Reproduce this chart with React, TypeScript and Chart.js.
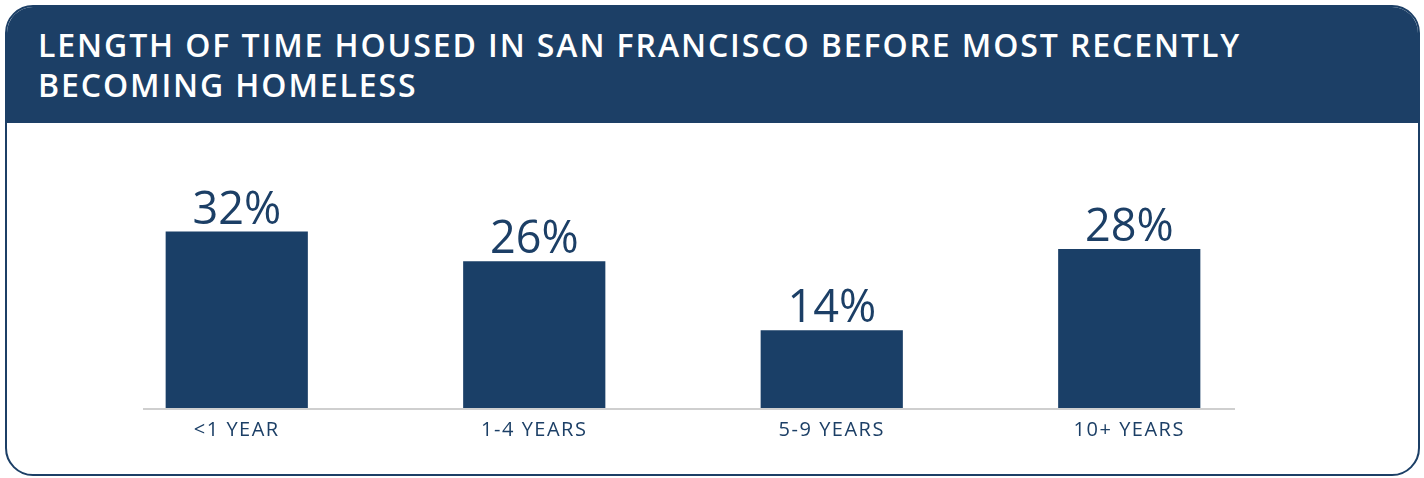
import React, { useEffect, useRef } from "react";
import { Chart, registerables } from "chart.js";

Chart.register(...registerables);

const TITLE_LINE_1 = "LENGTH OF TIME HOUSED IN SAN FRANCISCO BEFORE MOST RECENTLY";
const TITLE_LINE_2 = "BECOMING HOMELESS";

const categories = ["<1 YEAR", "1-4 YEARS", "5-9 YEARS", "10+ YEARS"];
// shares (labels show them rounded)
const shares = [31.5, 26.2, 13.9, 28.4];
const yMax = 40;

const NAVY = "#1c3f66";
const BAR = "#1a3f67";
const AXIS_GRAY = "#cfcfcf";
const FONT = "'Open Sans', 'DejaVu Sans', sans-serif";

const spacingPlugin = {
  id: "spacing",
  beforeDraw(chart: any) {
    (chart.ctx as any).letterSpacing = "1.5px";
  },
};

const valueLabelPlugin = {
  id: "valueLabels",
  afterDatasetsDraw(chart: any) {
    const ctx = chart.ctx;
    const meta = chart.getDatasetMeta(0);
    ctx.save();
    (ctx as any).letterSpacing = "0px";
    ctx.fillStyle = NAVY;
    ctx.font = `400 45px ${FONT}`;
    ctx.textAlign = "center";
    ctx.textBaseline = "alphabetic";
    meta.data.forEach((bar: any, i: number) => {
      const v = chart.data.datasets[0].data[i] as number;
      ctx.fillText(`${Math.round(v)}%`, bar.x, bar.y - 8);
    });
    ctx.restore();
  },
};

const baselinePlugin = {
  id: "baseline",
  afterDatasetsDraw(chart: any) {
    const { ctx, chartArea } = chart;
    const y0 = chart.scales.y.getPixelForValue(0);
    ctx.save();
    ctx.strokeStyle = AXIS_GRAY;
    ctx.lineWidth = 2;
    ctx.beginPath();
    ctx.moveTo(chartArea.left + 55, y0 + 1);
    ctx.lineTo(chartArea.right - 43, y0 + 1);
    ctx.stroke();
    ctx.restore();
  },
};

export default function App() {
  const canvasRef = useRef<HTMLCanvasElement | null>(null);

  useEffect(() => {
    document.body.style.margin = "0";
    const canvas = canvasRef.current;
    if (!canvas) return;
    const chart = new Chart(canvas, {
      type: "bar",
      data: {
        labels: categories,
        datasets: [
          {
            data: shares,
            backgroundColor: BAR,
            borderWidth: 0,
            categoryPercentage: 1,
            barPercentage: 0.478,
          },
        ],
      },
      options: {
        animation: false,
        responsive: false,
        events: [],
        layout: { padding: { left: 81, right: 140, top: 61, bottom: 22 } },
        plugins: {
          legend: { display: false },
          title: { display: false },
          tooltip: { enabled: false },
        },
        scales: {
          x: {
            grid: { display: false, drawTicks: false },
            border: { display: false },
            ticks: {
              color: NAVY,
              padding: 10,
              font: { family: FONT, size: 20, weight: 400 as any },
              maxRotation: 0,
              autoSkip: false,
            },
          },
          y: {
            display: false,
            min: 0,
            max: yMax,
          },
        },
      },
      plugins: [spacingPlugin, baselinePlugin, valueLabelPlugin],
    });
    return () => chart.destroy();
  }, []);

  return (
    <div
      style={{
        position: "absolute",
        left: 5,
        top: 5,
        width: 1415,
        height: 471,
        boxSizing: "border-box",
        border: `2px solid ${NAVY}`,
        borderRadius: 28,
        overflow: "hidden",
        background: "#ffffff",
      }}
    >
      <div
        style={{
          position: "absolute",
          left: 0,
          top: 0,
          right: 0,
          height: 116,
          background: NAVY,
        }}
      >
        <div
          style={{
            position: "absolute",
            left: 31,
            top: 18,
            color: "#ffffff",
            fontFamily: FONT,
            fontWeight: 600,
            fontSize: 32,
            lineHeight: "40px",
            letterSpacing: "1.9px",
            whiteSpace: "nowrap",
          }}
        >
          <div>{TITLE_LINE_1}</div>
          <div>{TITLE_LINE_2}</div>
        </div>
      </div>
      <div style={{ position: "absolute", left: 0, top: 116, width: 1411, height: 351 }}>
        <canvas ref={canvasRef} width={1411} height={351} style={{ display: "block" }} />
      </div>
    </div>
  );
}
